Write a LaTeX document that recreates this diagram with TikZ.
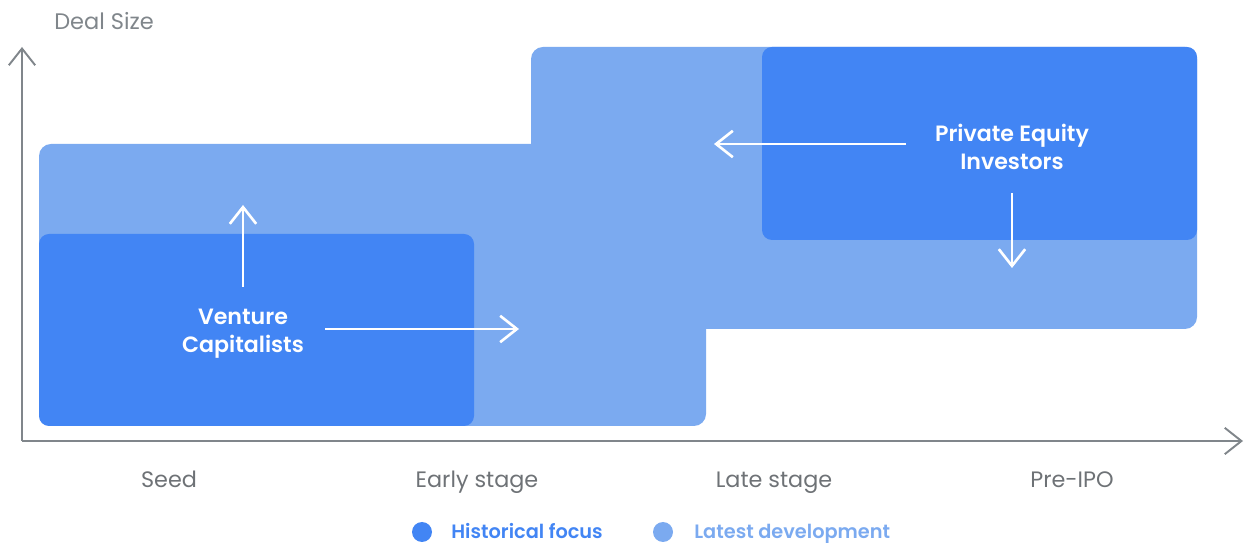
\documentclass[tikz,border=0pt]{standalone}
\usepackage{fontspec}
\setmainfont{Poppins}
\newfontfamily\medfont{Poppins SemiBold}
\usetikzlibrary{arrows.meta}
\definecolor{gblue}{HTML}{4285F4}
\definecolor{lblue}{HTML}{7BAAF0}
\definecolor{ggray}{HTML}{80868B}
\definecolor{tgray}{HTML}{6E7276}
\tikzset{
  axis/.style={draw=ggray, line width=1.1pt, -{Straight Barb[length=9.5pt,width=15pt,line width=1.1pt]}},
  wharrow/.style={draw=white, line width=1.5pt, -{Straight Barb[length=9.5pt,width=15pt,line width=1.5pt]}},
  stagelabel/.style={text=tgray, font=\fontsize{12.7pt}{15pt}\selectfont, inner sep=0, anchor=base},
  boxlabel/.style={text=white, font=\medfont\fontsize{12.6pt}{15.9pt}\selectfont, align=center, inner sep=0},
  legdot/.style={circle, minimum size=0.4cm, inner sep=0},
  legtext/.style={font=\medfont\fontsize{11pt}{13pt}\selectfont, anchor=base west, inner sep=0}
}
\begin{document}
\begin{tikzpicture}[x=0.02cm,y=-0.02cm]
\useasboundingbox (0,0) rectangle (1245,543);
% latest development region (light)
\fill[lblue, rounded corners=0.24cm] (39,144) rectangle (706,426);
\fill[lblue, rounded corners=0.24cm] (531,47) rectangle (1197,329);
% historical focus boxes (dark)
\fill[gblue, rounded corners=0.2cm] (39,234) rectangle (474,426);
\fill[gblue, rounded corners=0.2cm] (762,47) rectangle (1197,240);
% axes
\coordinate (o) at (22,441);
\coordinate (ytip) at (22,47);
\coordinate (xtip) at (1243,441);
\draw[axis] (o) -- (ytip);
\draw[axis] (o) -- (xtip);
\node[text=ggray, font=\fontsize{12.8pt}{15pt}\selectfont, inner sep=0, anchor=base] (ylab) at (104,30) {Deal Size};
% stage labels
\node[stagelabel] (seed) at (169,488) {Seed};
\node[stagelabel] (early) at (477,488) {Early stage};
\node[stagelabel] (late) at (774,488) {Late stage};
\node[stagelabel] (preipo) at (1072,488) {Pre-IPO};
% box labels
\node[boxlabel] (vc) at (243,334) {Venture\\Capitalists};
\node[boxlabel] (pe) at (1012,147) {Private Equity\\Investors};
% white arrows
\coordinate (vcup0) at (243,287);
\coordinate (vcup1) at (243,205);
\coordinate (vcr0) at (325,329);
\coordinate (vcr1) at (519,329);
\coordinate (pel0) at (906,144);
\coordinate (pel1) at (714,144);
\coordinate (ped0) at (1012,193);
\coordinate (ped1) at (1012,268);
\draw[wharrow] (vcup0) -- (vcup1);
\draw[wharrow] (vcr0) -- (vcr1);
\draw[wharrow] (pel0) -- (pel1);
\draw[wharrow] (ped0) -- (ped1);
% legend
\node[legdot, fill=gblue] (d1) at (422,532) {};
\node[legtext, text=gblue] (t1) at (451,538.5) {Historical focus};
\node[legdot, fill=lblue] (d2) at (663,532) {};
\node[legtext, text=lblue] (t2) at (694,538.5) {Latest development};
\end{tikzpicture}
\end{document}
